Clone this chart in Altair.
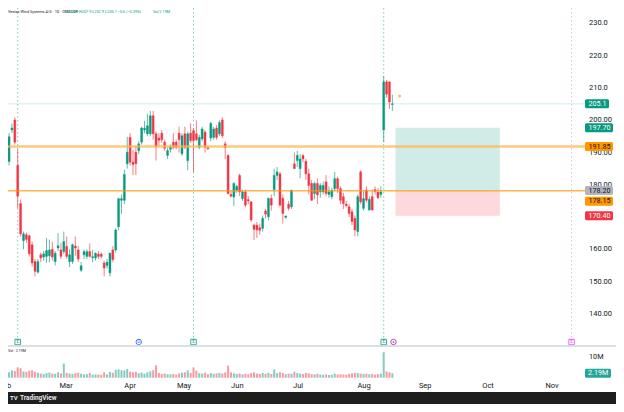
import altair as alt
import pandas as pd

# ---------------- data ----------------
opens = [
    187.2, 197.0, 200.1, 186.0, 174.2, 162.7, 164.5, 164.2, 161.4, 156.2,
    152.9, 158.3, 157.6, 157.8, 158.0, 160.0, 156.2, 160.4, 159.8, 159.3,
    160.9, 156.2, 156.2, 161.0, 159.8, 153.5, 158.3, 157.8, 159.3, 157.4,
    157.3, 158.5, 158.5, 155.8, 155.0, 152.7, 159.8, 159.8, 167.0, 175.2,
    175.2, 186.5, 194.7, 187.0, 190.1, 190.6, 193.2, 197.0, 195.8, 195.8,
    201.4, 195.8, 194.5, 196.0, 193.2, 189.1, 191.0, 193.2, 193.2, 196.0,
    189.6, 195.8, 187.5, 196.0, 196.8, 195.8, 191.6, 194.2, 196.3, 191.5,
    194.5, 194.7, 197.6, 195.8, 200.1, 192.7, 189.1, 177.0, 176.2, 178.3,
    182.9, 175.7, 177.8, 175.4, 174.7, 167.5, 167.5, 166.7, 166.5, 171.9,
    170.1, 175.8, 178.5, 182.9, 183.4, 175.8, 169.9, 174.0, 173.2, 186.5,
    187.5, 185.0, 189.1, 187.3, 183.4, 180.4, 177.3, 180.4, 177.8, 177.8,
    180.9, 177.0, 176.3, 178.8, 181.9, 178.8, 176.3, 174.0, 173.2, 171.6,
    169.6, 165.5, 184.0, 172.7, 178.3, 172.2, 176.3, 178.5, 177.7, 177.0,
    197.0, 211.9, 211.9, 204.9]
highs = [
    196.0, 199.0, 200.9, 191.0, 175.5, 165.5, 165.2, 164.5, 162.4, 157.0,
    157.0, 159.0, 159.5, 163.5, 163.0, 162.4, 159.5, 165.0, 162.0, 165.5,
    164.0, 160.0, 161.8, 164.0, 161.0, 156.0, 160.0, 160.0, 161.8, 159.8,
    159.0, 159.5, 159.0, 156.5, 157.0, 159.0, 161.0, 166.5, 176.0, 177.0,
    184.7, 194.9, 196.0, 191.0, 192.0, 193.5, 198.0, 199.8, 202.0, 202.9,
    202.9, 196.5, 196.0, 197.0, 194.0, 191.5, 192.5, 196.0, 194.0, 198.0,
    196.0, 198.0, 196.5, 199.0, 197.5, 200.0, 195.5, 198.0, 197.0, 192.0,
    199.5, 198.0, 198.5, 200.0, 201.0, 193.5, 189.5, 178.0, 180.8, 180.0,
    183.5, 178.5, 178.5, 176.5, 175.0, 168.0, 168.5, 168.0, 170.5, 172.5,
    176.0, 177.0, 185.0, 185.5, 184.0, 177.0, 170.5, 175.0, 178.5, 190.0,
    190.5, 189.5, 189.5, 188.0, 185.0, 181.5, 181.0, 182.0, 180.5, 181.0,
    183.0, 179.5, 179.0, 184.0, 182.5, 179.5, 177.5, 175.0, 174.0, 172.5,
    170.5, 177.0, 184.5, 178.0, 179.5, 176.5, 178.5, 179.5, 179.0, 179.5,
    213.7, 212.5, 212.0, 207.9]
lows = [
    186.0, 196.0, 192.5, 172.7, 164.0, 160.0, 162.0, 157.8, 154.7, 151.6,
    152.5, 156.0, 156.5, 155.8, 156.0, 156.5, 155.0, 159.5, 157.0, 158.5,
    157.0, 154.5, 155.5, 158.0, 156.0, 153.0, 157.0, 157.0, 157.5, 156.0,
    156.5, 157.0, 157.2, 151.6, 154.0, 151.6, 156.0, 159.0, 166.0, 171.0,
    174.0, 185.0, 186.0, 183.0, 183.0, 189.5, 192.5, 196.0, 195.0, 195.0,
    194.0, 187.5, 192.0, 193.0, 190.5, 188.0, 190.0, 191.0, 191.0, 190.0,
    189.0, 191.0, 184.5, 193.0, 183.9, 193.5, 191.0, 193.5, 190.0, 190.8,
    193.5, 194.0, 194.0, 195.0, 194.5, 188.0, 177.0, 176.0, 173.4, 177.5,
    176.5, 175.0, 173.0, 174.0, 168.5, 162.9, 163.5, 164.5, 165.5, 169.5,
    169.0, 172.0, 176.5, 181.5, 173.0, 168.0, 169.5, 172.0, 172.5, 185.0,
    185.5, 182.0, 187.0, 181.5, 177.0, 175.0, 175.5, 174.0, 176.0, 177.0,
    176.5, 176.0, 175.5, 178.0, 177.5, 174.0, 172.5, 173.0, 170.0, 167.5,
    164.0, 164.0, 174.0, 172.0, 174.5, 172.0, 172.0, 177.0, 175.5, 176.0,
    193.2, 207.0, 203.5, 202.9]
closes = [
    194.9, 197.6, 193.2, 176.5, 164.8, 164.8, 163.1, 158.6, 155.8, 153.2,
    156.2, 157.3, 158.6, 159.6, 159.8, 157.6, 158.8, 161.1, 157.8, 162.4,
    157.8, 158.3, 161.4, 160.4, 157.0, 154.9, 159.3, 159.3, 157.8, 157.7,
    158.8, 157.8, 157.8, 154.2, 156.0, 158.8, 156.8, 166.0, 175.7, 175.7,
    183.2, 190.1, 187.0, 186.3, 186.5, 192.7, 197.6, 197.5, 198.3, 201.4,
    195.8, 191.8, 193.8, 194.0, 191.3, 190.6, 191.8, 191.6, 191.6, 194.0,
    195.2, 191.6, 195.8, 193.7, 193.7, 194.0, 194.7, 197.3, 191.6, 191.2,
    199.0, 197.3, 194.7, 199.3, 195.2, 191.5, 177.3, 176.5, 180.4, 179.5,
    177.8, 177.8, 173.7, 175.0, 169.1, 166.2, 166.0, 165.9, 169.6, 170.9,
    175.8, 173.7, 182.9, 184.0, 173.7, 171.1, 170.3, 172.7, 178.3, 185.0,
    189.1, 188.0, 188.0, 183.4, 179.8, 175.2, 180.4, 176.9, 179.8, 179.8,
    177.3, 177.8, 178.3, 181.9, 178.8, 175.2, 174.2, 173.5, 171.1, 168.6,
    166.0, 176.3, 174.7, 175.7, 175.2, 175.5, 172.2, 178.0, 176.0, 177.8,
    211.9, 208.1, 205.7, 205.1]
volumes_m = [
    2.6, 3.5, 3.2, 5.0, 4.6, 3.0, 2.8, 3.4, 3.6, 2.9,
    2.4, 2.0, 1.8, 2.2, 2.5, 2.0, 1.9, 2.7, 2.1, 6.8,
    2.3, 2.0, 1.8, 2.2, 2.4, 1.9, 1.6, 1.7, 2.3, 1.5,
    1.6, 1.5, 1.4, 2.6, 1.6, 2.8, 2.4, 3.8, 4.0, 3.6,
    3.5, 4.2, 2.9, 2.6, 2.8, 2.2, 2.4, 1.9, 2.6, 3.1,
    3.6, 6.0, 2.3, 1.8, 2.0, 1.7, 1.6, 1.8, 1.5, 2.0,
    2.4, 2.6, 3.5, 2.3, 5.0, 3.4, 2.2, 2.0, 2.4, 1.7,
    2.2, 1.9, 2.1, 2.3, 2.0, 2.5, 5.8, 2.6, 2.1, 1.8,
    2.0, 1.6, 1.9, 1.6, 2.2, 2.6, 2.0, 1.8, 2.3, 1.9,
    2.4, 1.8, 4.0, 2.2, 2.6, 2.3, 1.7, 2.0, 1.9, 2.9,
    2.2, 2.0, 1.8, 2.3, 2.1, 1.7, 1.6, 1.9, 1.5, 1.4,
    1.6, 1.3, 1.4, 2.0, 1.6, 1.7, 1.5, 1.4, 1.9, 2.1,
    2.4, 2.2, 2.0, 1.8, 1.9, 1.7, 1.8, 1.5, 1.7, 2.0,
    12.3, 3.0, 2.6, 2.19]

price_ticks = [140, 150, 160, 170, 180, 190, 200, 210, 220, 230]
price_tick_labels = ["140.00", "150.00", "160.00", "170.00", "180.00",
                     "190.00", "200.00", "210.0", "220.0", "230.0"]
month_names = ["Feb", "Mar", "Apr", "May", "Jun", "Jul", "Aug", "Sep", "Oct", "Nov"]
month_pos = [-1.4, 19.8, 42.0, 60.7, 79.2, 100.3, 123.2, 144.4, 166.2, 188.4]

level_hi = 191.85
level_lo = 178.15
last_price = 205.1
last_price_text = "205.1"
entry_price, target_price, stop_price = 178.20, 197.70, 170.40
box_start, box_end = 134.1, 170.3

badge_prices = [197.70, 191.85, 178.20, 170.40]
badge_texts = ["197.70", "191.85", "178.20", "170.40"]
badge_bg = ["#089981", "#ff9800", "#b2b5be", "#f23645"]
badge_fg = ["#ffffff", "#131722", "#131722", "#ffffff"]
badge2_price, badge2_text = 178.15, "178.15"

earnings_idx = [3, 64, 130]
dividend_idx = [45]
other_idx = [133.4]
next_earnings_idx = [195.2]
alert_idx, alert_price = 135.5, 207.5

vol_last = 2.19
vol_ref = 10

# ---------------- chart ----------------
UP, DOWN = "#089981", "#f23645"
FONT = "Roboto"
TXT = "#131722"

df = pd.DataFrame({"i": list(range(len(opens))), "o": opens, "h": highs,
                   "l": lows, "c": closes, "v": volumes_m})
df["col"] = [UP if c >= o else DOWN for o, c in zip(opens, closes)]

XS = alt.Scale(domain=[1.365, 208.87], nice=False, zero=False)


def PY():
    return alt.Scale(domain=[130.03, 234.80], range=[338, 0], nice=False, zero=False)


def VY():
    return alt.Scale(domain=[0, 10], range=[369.7, 349], nice=False, zero=False)


def X(f):
    return alt.X(f, type="quantitative", scale=XS, axis=None)


def YP(f):
    return alt.Y(f, type="quantitative", scale=PY(), axis=None)


def YV(f):
    return alt.Y(f, type="quantitative", scale=VY(), axis=None)


one = pd.DataFrame({"k": [0]})
base = alt.Chart(df)

box = pd.DataFrame({"x1": [box_start], "x2": [box_end], "top": [target_price],
                    "mid": [entry_price], "bot": [stop_price]})
box_g = alt.Chart(box).mark_rect(color=UP, opacity=0.19).encode(
    x=X("x1"), x2="x2", y=YP("top"), y2="mid")
box_r = alt.Chart(box).mark_rect(color=DOWN, opacity=0.19).encode(
    x=X("x1"), x2="x2", y=YP("mid"), y2="bot")

last_line = alt.Chart(pd.DataFrame({"p": [last_price]})).mark_rule(
    color=UP, opacity=0.18, strokeWidth=1).encode(
    x=alt.value(0), x2=alt.value(577), y=YP("p"))

ev_lines = alt.Chart(pd.DataFrame({"i": earnings_idx})).mark_rule(
    color=UP, strokeDash=[1.5, 2.5], opacity=0.5, strokeWidth=1).encode(
    x=X("i"), y=alt.value(0), y2=alt.value(331))
nx_lines = alt.Chart(pd.DataFrame({"i": next_earnings_idx})).mark_rule(
    color="#e040fb", strokeDash=[1.5, 2.5], opacity=0.4, strokeWidth=1).encode(
    x=X("i"), y=alt.value(0), y2=alt.value(331))

vol = base.mark_bar(size=2, opacity=0.5).encode(
    x=X("i"), y=YV("v"), y2=alt.Y2(datum=0), color=alt.Color("col:N", scale=None))

wicks = base.mark_rule(strokeWidth=1, opacity=0.65).encode(
    x=X("i"), y=YP("l"), y2="h", color=alt.Color("col:N", scale=None))
bodies = base.mark_bar(size=2, strokeWidth=0.4).encode(
    x=X("i"), y=YP("o"), y2="c", color=alt.Color("col:N", scale=None),
    stroke=alt.Stroke("col:N", scale=None))

lvl_hi = alt.Chart(pd.DataFrame({"p": [level_hi]})).mark_rule(
    color="#ffb74d", strokeWidth=2.5, opacity=0.75).encode(
    x=alt.value(0), x2=alt.value(577), y=YP("p"))
lvl_lo = alt.Chart(pd.DataFrame({"p": [level_lo]})).mark_rule(
    color="#ff9800", strokeWidth=1.5, opacity=0.7).encode(
    x=alt.value(0), x2=alt.value(577), y=YP("p"))

alert = alt.Chart(pd.DataFrame({"i": [alert_idx], "p": [alert_price]})).mark_circle(
    size=10, color="#ff9800", opacity=0.6).encode(x=X("i"), y=YP("p"))

mk_e = alt.Chart(pd.DataFrame({"i": earnings_idx})).mark_square(
    size=30, color="white", stroke=UP, strokeWidth=0.8, opacity=1).encode(
    x=X("i"), y=alt.value(334))
mk_e_t = alt.Chart(pd.DataFrame({"i": earnings_idx})).mark_text(
    text="E", fontSize=4.5, color=UP, font=FONT, baseline="middle").encode(
    x=X("i"), y=alt.value(334))
mk_d = alt.Chart(pd.DataFrame({"i": dividend_idx})).mark_circle(
    size=30, color="white", stroke="#2962ff", strokeWidth=0.8, opacity=1).encode(
    x=X("i"), y=alt.value(334))
mk_d_t = alt.Chart(pd.DataFrame({"i": dividend_idx})).mark_text(
    text="D", fontSize=4.5, color="#2962ff", font=FONT, baseline="middle").encode(
    x=X("i"), y=alt.value(334))
mk_o = alt.Chart(pd.DataFrame({"i": other_idx})).mark_circle(
    size=30, color="white", stroke="#9c27b0", strokeWidth=0.8, opacity=1).encode(
    x=X("i"), y=alt.value(334))
mk_o_t = alt.Chart(pd.DataFrame({"i": other_idx})).mark_circle(
    size=3, color="#9c27b0", opacity=1).encode(x=X("i"), y=alt.value(334))
mk_n = alt.Chart(pd.DataFrame({"i": next_earnings_idx})).mark_square(
    size=30, color="white", stroke="#e040fb", strokeWidth=0.8, opacity=1).encode(
    x=X("i"), y=alt.value(334))
mk_n_t = alt.Chart(pd.DataFrame({"i": next_earnings_idx})).mark_text(
    text="E", fontSize=4.5, color="#e040fb", font=FONT, baseline="middle").encode(
    x=X("i"), y=alt.value(334))

separator = alt.Chart(one).mark_rule(color="#d1d4dc", strokeWidth=1.5).encode(
    x=alt.value(0), x2=alt.value(608), y=alt.value(338))

tick_labels = alt.Chart(pd.DataFrame({"p": price_ticks, "t": price_tick_labels})).mark_text(
    align="left", baseline="middle", fontSize=7.5, color=TXT, font=FONT).encode(
    x=alt.value(581), y=YP("p"), text="t:N")

# price badges on the right axis (tick centre = left edge + half the length)
bdf = pd.DataFrame({"p": badge_prices, "t": badge_texts, "bg": badge_bg, "fg": badge_fg})
badges = alt.Chart(bdf).mark_tick(orient="horizontal", thickness=9, size=28,
                                  cornerRadius=1.5, opacity=1).encode(
    x=alt.value(591), y=YP("p"), color=alt.Color("bg:N", scale=None))
badge_t = alt.Chart(bdf).mark_text(align="left", baseline="middle", fontSize=7.2,
                                   font=FONT).encode(
    x=alt.value(580.5), y=YP("p"), text="t:N", color=alt.Color("fg:N", scale=None))
lp = pd.DataFrame({"p": [last_price], "t": [last_price_text]})
lp_badge = alt.Chart(lp).mark_tick(orient="horizontal", thickness=9, size=24,
                                   cornerRadius=1.5, opacity=1, color=UP).encode(
    x=alt.value(589), y=YP("p"))
lp_badge_t = alt.Chart(lp).mark_text(align="left", baseline="middle", fontSize=7.2,
                                     font=FONT, color="white").encode(
    x=alt.value(580.5), y=YP("p"), text="t:N")
b2 = pd.DataFrame({"p": [badge2_price], "t": [badge2_text]})
badge2 = alt.Chart(b2).mark_tick(orient="horizontal", thickness=9, size=28,
                                 cornerRadius=1.5, opacity=1, color="#ff9800",
                                 yOffset=10.5).encode(x=alt.value(591), y=YP("p"))
badge2_t = alt.Chart(b2).mark_text(align="left", baseline="middle", fontSize=7.2,
                                   font=FONT, color=TXT, yOffset=10.5).encode(
    x=alt.value(580.5), y=YP("p"), text="t:N")

vref = alt.Chart(pd.DataFrame({"v": [vol_ref], "t": ["10M"]})).mark_text(
    align="left", baseline="middle", fontSize=7.3, color=TXT, font=FONT).encode(
    x=alt.value(581), y=YV("v"), text="t:N")
vbadge = alt.Chart(pd.DataFrame({"v": [vol_last]})).mark_tick(
    orient="horizontal", thickness=9, size=26, cornerRadius=1.5, opacity=1,
    color="#26a69a").encode(x=alt.value(590), y=YV("v"))
vbadge_t = alt.Chart(pd.DataFrame({"v": [vol_last], "t": ["2.19M"]})).mark_text(
    align="left", baseline="middle", fontSize=7.2, color="white", font=FONT).encode(
    x=alt.value(580), y=YV("v"), text="t:N")

months = alt.Chart(pd.DataFrame({"i": month_pos, "t": month_names})).mark_text(
    align="center", baseline="middle", fontSize=7.5, color=TXT, font=FONT).encode(
    x=X("i"), y=alt.value(378), text="t:N")

title_a = alt.Chart(one).mark_text(
    text="Vestas Wind Systems A/S · 1D · OMXCOP", align="left", baseline="middle",
    fontSize=3.8, color=TXT, font=FONT).encode(x=alt.value(0), y=alt.value(4))
title_b = alt.Chart(one).mark_text(
    text="O204.9  H207.9  L202.9  C205.1  −0.6 (−0.29%)", align="left",
    baseline="middle", fontSize=3.8, color=UP, font=FONT).encode(
    x=alt.value(58), y=alt.value(4))
title_c = alt.Chart(one).mark_text(
    text="Vol 2.19M", align="left", baseline="middle", fontSize=3.8, color=UP,
    font=FONT).encode(x=alt.value(145), y=alt.value(4))
vol_title = alt.Chart(one).mark_text(
    text="Vol · 2.19M", align="left", baseline="middle", fontSize=3.6, color=TXT,
    font=FONT).encode(x=alt.value(0), y=alt.value(343))

footer = alt.Chart(one).mark_rect(color="#1e1e1e").encode(
    x=alt.value(0), x2=alt.value(608), y=alt.value(384), y2=alt.value(396))
footer_t = alt.Chart(one).mark_text(
    text="TradingView", align="left", baseline="middle", fontSize=6.5,
    fontWeight="bold", color="#e8e8e8", font=FONT).encode(
    x=alt.value(12), y=alt.value(390))
footer_logo = alt.Chart(one).mark_text(
    text="TV", align="left", baseline="middle", fontSize=6, fontWeight="bold",
    color="#e8e8e8", font=FONT).encode(x=alt.value(2), y=alt.value(390))

chart = alt.layer(
    box_g, box_r, last_line, ev_lines, nx_lines, vol, wicks, bodies,
    lvl_hi, lvl_lo, alert, mk_e, mk_e_t, mk_d, mk_d_t, mk_o, mk_o_t, mk_n, mk_n_t,
    separator, tick_labels, badges, badge_t, lp_badge, lp_badge_t, badge2, badge2_t,
    vref, vbadge, vbadge_t, months, title_a, title_b, title_c, vol_title,
    footer, footer_t, footer_logo,
).resolve_scale(y="independent").properties(
    width=608, height=396, autosize=alt.AutoSizeParams(type="none"), padding=0,
    background="white",
).configure_view(stroke=None)

chart.save("out.html", embed_options={"renderer": "svg", "actions": False})
